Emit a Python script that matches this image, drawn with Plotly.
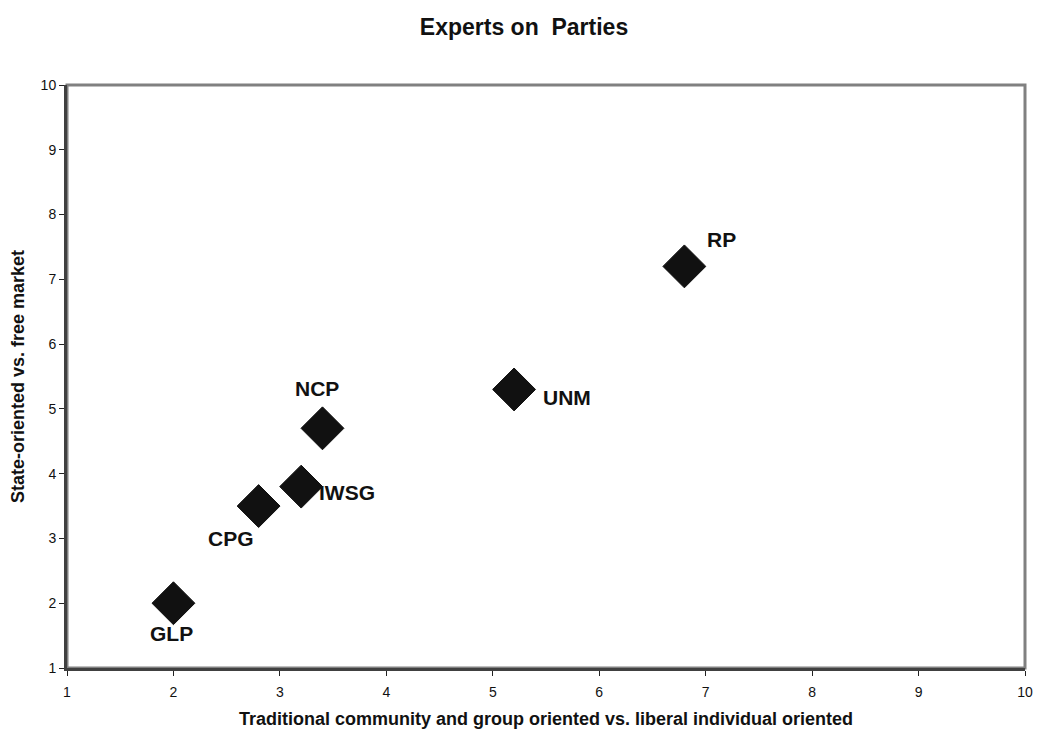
import plotly.graph_objects as go

parties = ["GLP", "CPG", "IWSG", "NCP", "UNM", "RP"]
x_vals = [2.0, 2.8, 3.2, 3.4, 5.2, 6.8]
y_vals = [2.0, 3.5, 3.8, 4.7, 5.3, 7.2]
tick_vals = [1, 2, 3, 4, 5, 6, 7, 8, 9, 10]

# label pixel offsets (style only)
label_offsets = {
    "GLP": (-2, -30),
    "CPG": (-28, -32),
    "IWSG": (46, -6),
    "NCP": (-5, 40),
    "UNM": (53, -8),
    "RP": (37, 27),
}

FONT = "Liberation Sans, Arial, sans-serif"

fig = go.Figure()
fig.add_trace(go.Scatter(
    x=x_vals, y=y_vals, mode="markers",
    marker=dict(symbol="diamond", size=33, color="#111111",
                line=dict(color="#111111", width=1)),
    hoverinfo="skip", showlegend=False,
))

for name, xv, yv in zip(parties, x_vals, y_vals):
    dx, dy = label_offsets[name]
    fig.add_annotation(x=xv, y=yv, text="<b>%s</b>" % name, showarrow=False,
                       xshift=dx, yshift=dy,
                       font=dict(family=FONT, size=21, color="#111111"))

fig.add_shape(type="rect", xref="paper", yref="paper", x0=0, y0=0, x1=1, y1=1,
              line=dict(color="#808080", width=3), layer="below")

axis_common = dict(
    range=[1, 10], tickmode="array", tickvals=tick_vals, automargin=False,
    showgrid=False, zeroline=False, showline=True, linecolor="#404040", linewidth=3,
    ticks="outside", ticklen=5, tickwidth=1, tickcolor="#222222",
    tickfont=dict(family=FONT, size=14, color="#111111"),
)

fig.update_layout(
    width=1037, height=729,
    paper_bgcolor="white", plot_bgcolor="white",
    margin=dict(l=67, r=12, t=85, b=61),
    title=dict(text="<b>Experts on  Parties</b>", xref="container", x=0.5053, xanchor="center",
               yref="container", y=0.963, yanchor="middle",
               font=dict(family=FONT, size=23, color="#111111")),
    xaxis=dict(**axis_common, ticklabelstandoff=4,
               title=dict(text="<b>Traditional community and group oriented vs. liberal individual oriented</b>",
                          font=dict(family=FONT, size=18, color="#111111"), standoff=20)),
    yaxis=dict(**axis_common,
               title=dict(text="<b>State-oriented vs. free market</b>",
                          font=dict(family=FONT, size=18, color="#111111"), standoff=12)),
)

fig.write_html("out.html", config={"displayModeBar": False},
               post_script="document.body.style.margin='0';")
